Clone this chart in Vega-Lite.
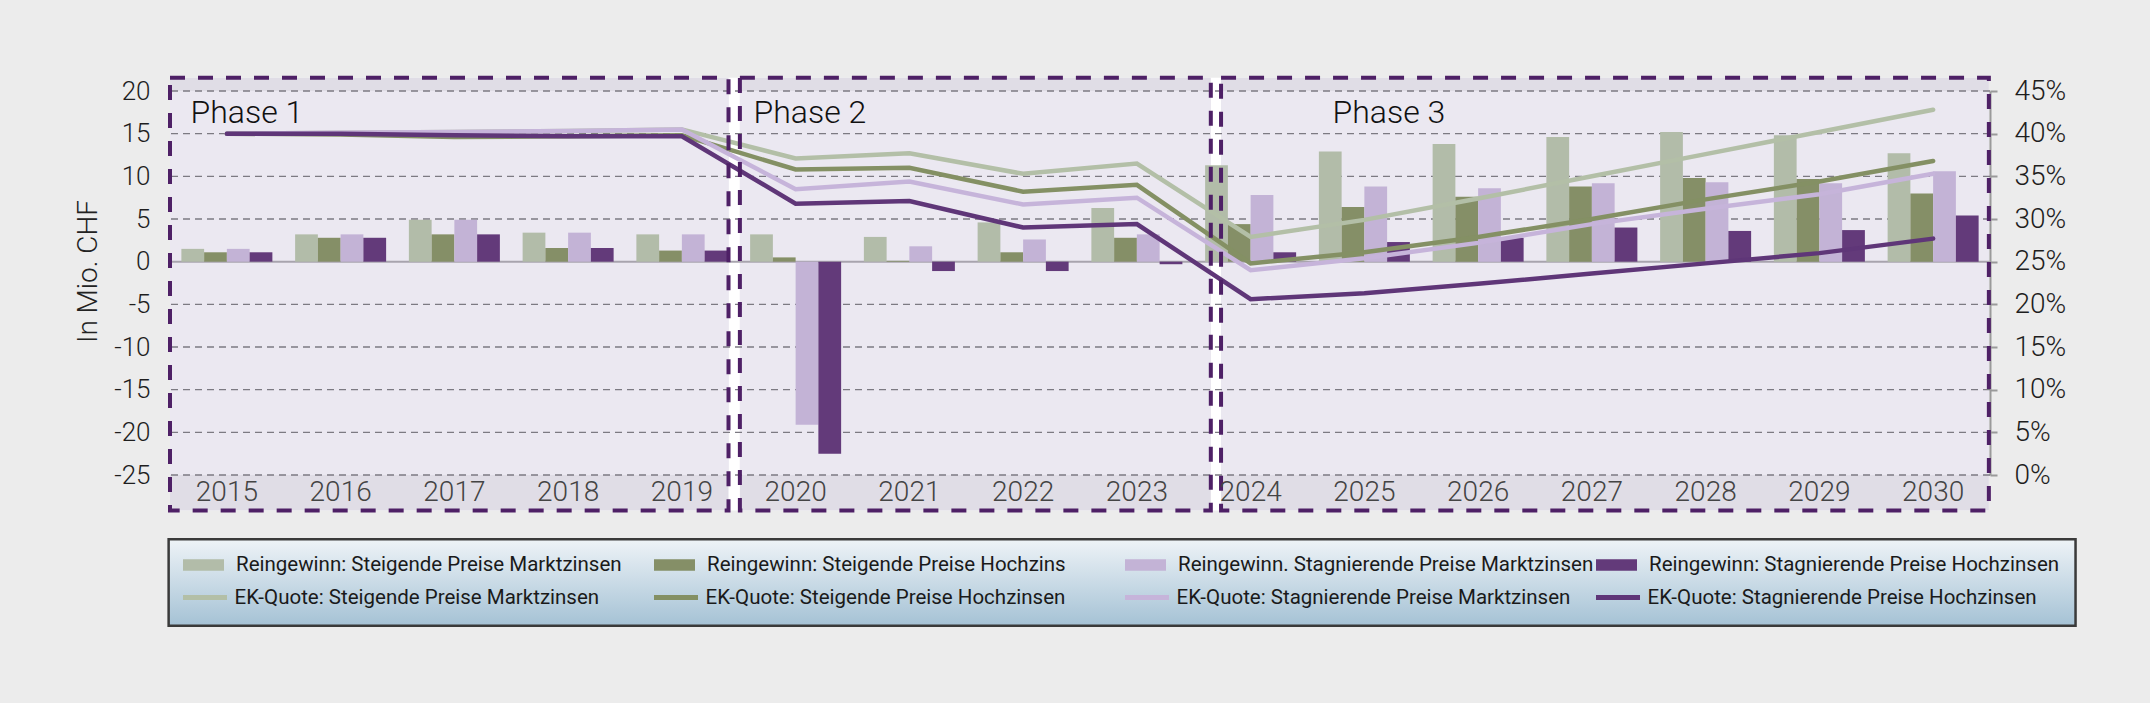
{
  "$schema": "https://vega.github.io/schema/vega-lite/v6.json",
  "width": 1820,
  "height": 384,
  "autosize": {"type": "none"},
  "padding": {"left": 170, "top": 91, "right": 160, "bottom": 228},
  "background": "#ececec",
  "config": {
    "view": {"stroke": null},
    "font": "Roboto",
    "axis": {"labelFont": "Roboto", "labelFontWeight": 300, "titleFont": "Roboto", "titleFontWeight": 300},
    "legend": {"labelFont": "Roboto", "labelFontWeight": 400}
  },
  "datasets": {
    "phases": [
      {"phase": "Phase 1", "start": 2014.5, "end": 2019.41, "labelX": 2014.68},
      {"phase": "Phase 2", "start": 2019.51, "end": 2023.65, "labelX": 2019.63},
      {"phase": "Phase 3", "start": 2023.74, "end": 2030.49, "labelX": 2024.72}
    ],
    "grid": [{"v": -25}, {"v": -20}, {"v": -15}, {"v": -10}, {"v": -5}, {"v": 5}, {"v": 10}, {"v": 15}, {"v": 20}],
    "bars": [
      {"year": 2015, "series": "Reingewinn:  Steigende Preise Marktzinsen", "value": 1.5},
      {"year": 2015, "series": "Reingewinn: Steigende Preise Hochzins", "value": 1.1},
      {"year": 2015, "series": "Reingewinn. Stagnierende Preise Marktzinsen", "value": 1.5},
      {"year": 2015, "series": "Reingewinn: Stagnierende Preise Hochzinsen", "value": 1.1},
      {"year": 2016, "series": "Reingewinn:  Steigende Preise Marktzinsen", "value": 3.2},
      {"year": 2016, "series": "Reingewinn: Steigende Preise Hochzins", "value": 2.8},
      {"year": 2016, "series": "Reingewinn. Stagnierende Preise Marktzinsen", "value": 3.2},
      {"year": 2016, "series": "Reingewinn: Stagnierende Preise Hochzinsen", "value": 2.8},
      {"year": 2017, "series": "Reingewinn:  Steigende Preise Marktzinsen", "value": 4.9},
      {"year": 2017, "series": "Reingewinn: Steigende Preise Hochzins", "value": 3.2},
      {"year": 2017, "series": "Reingewinn. Stagnierende Preise Marktzinsen", "value": 4.9},
      {"year": 2017, "series": "Reingewinn: Stagnierende Preise Hochzinsen", "value": 3.2},
      {"year": 2018, "series": "Reingewinn:  Steigende Preise Marktzinsen", "value": 3.4},
      {"year": 2018, "series": "Reingewinn: Steigende Preise Hochzins", "value": 1.6},
      {"year": 2018, "series": "Reingewinn. Stagnierende Preise Marktzinsen", "value": 3.4},
      {"year": 2018, "series": "Reingewinn: Stagnierende Preise Hochzinsen", "value": 1.6},
      {"year": 2019, "series": "Reingewinn:  Steigende Preise Marktzinsen", "value": 3.2},
      {"year": 2019, "series": "Reingewinn: Steigende Preise Hochzins", "value": 1.3},
      {"year": 2019, "series": "Reingewinn. Stagnierende Preise Marktzinsen", "value": 3.2},
      {"year": 2019, "series": "Reingewinn: Stagnierende Preise Hochzinsen", "value": 1.3},
      {"year": 2020, "series": "Reingewinn:  Steigende Preise Marktzinsen", "value": 3.2},
      {"year": 2020, "series": "Reingewinn: Steigende Preise Hochzins", "value": 0.5},
      {"year": 2020, "series": "Reingewinn. Stagnierende Preise Marktzinsen", "value": -19.1},
      {"year": 2020, "series": "Reingewinn: Stagnierende Preise Hochzinsen", "value": -22.5},
      {"year": 2021, "series": "Reingewinn:  Steigende Preise Marktzinsen", "value": 2.9},
      {"year": 2021, "series": "Reingewinn: Steigende Preise Hochzins", "value": 0.1},
      {"year": 2021, "series": "Reingewinn. Stagnierende Preise Marktzinsen", "value": 1.8},
      {"year": 2021, "series": "Reingewinn: Stagnierende Preise Hochzinsen", "value": -1.1},
      {"year": 2022, "series": "Reingewinn:  Steigende Preise Marktzinsen", "value": 4.6},
      {"year": 2022, "series": "Reingewinn: Steigende Preise Hochzins", "value": 1.1},
      {"year": 2022, "series": "Reingewinn. Stagnierende Preise Marktzinsen", "value": 2.6},
      {"year": 2022, "series": "Reingewinn: Stagnierende Preise Hochzinsen", "value": -1.1},
      {"year": 2023, "series": "Reingewinn:  Steigende Preise Marktzinsen", "value": 6.3},
      {"year": 2023, "series": "Reingewinn: Steigende Preise Hochzins", "value": 2.8},
      {"year": 2023, "series": "Reingewinn. Stagnierende Preise Marktzinsen", "value": 3.2},
      {"year": 2023, "series": "Reingewinn: Stagnierende Preise Hochzinsen", "value": -0.3},
      {"year": 2024, "series": "Reingewinn:  Steigende Preise Marktzinsen", "value": 11.3},
      {"year": 2024, "series": "Reingewinn: Steigende Preise Hochzins", "value": 4.4},
      {"year": 2024, "series": "Reingewinn. Stagnierende Preise Marktzinsen", "value": 7.8},
      {"year": 2024, "series": "Reingewinn: Stagnierende Preise Hochzinsen", "value": 1.1},
      {"year": 2025, "series": "Reingewinn:  Steigende Preise Marktzinsen", "value": 12.9},
      {"year": 2025, "series": "Reingewinn: Steigende Preise Hochzins", "value": 6.4},
      {"year": 2025, "series": "Reingewinn. Stagnierende Preise Marktzinsen", "value": 8.8},
      {"year": 2025, "series": "Reingewinn: Stagnierende Preise Hochzinsen", "value": 2.3},
      {"year": 2026, "series": "Reingewinn:  Steigende Preise Marktzinsen", "value": 13.8},
      {"year": 2026, "series": "Reingewinn: Steigende Preise Hochzins", "value": 7.6},
      {"year": 2026, "series": "Reingewinn. Stagnierende Preise Marktzinsen", "value": 8.6},
      {"year": 2026, "series": "Reingewinn: Stagnierende Preise Hochzinsen", "value": 2.8},
      {"year": 2027, "series": "Reingewinn:  Steigende Preise Marktzinsen", "value": 14.6},
      {"year": 2027, "series": "Reingewinn: Steigende Preise Hochzins", "value": 8.8},
      {"year": 2027, "series": "Reingewinn. Stagnierende Preise Marktzinsen", "value": 9.2},
      {"year": 2027, "series": "Reingewinn: Stagnierende Preise Hochzinsen", "value": 4.0},
      {"year": 2028, "series": "Reingewinn:  Steigende Preise Marktzinsen", "value": 15.2},
      {"year": 2028, "series": "Reingewinn: Steigende Preise Hochzins", "value": 9.8},
      {"year": 2028, "series": "Reingewinn. Stagnierende Preise Marktzinsen", "value": 9.3},
      {"year": 2028, "series": "Reingewinn: Stagnierende Preise Hochzinsen", "value": 3.6},
      {"year": 2029, "series": "Reingewinn:  Steigende Preise Marktzinsen", "value": 14.8},
      {"year": 2029, "series": "Reingewinn: Steigende Preise Hochzins", "value": 9.7},
      {"year": 2029, "series": "Reingewinn. Stagnierende Preise Marktzinsen", "value": 9.2},
      {"year": 2029, "series": "Reingewinn: Stagnierende Preise Hochzinsen", "value": 3.7},
      {"year": 2030, "series": "Reingewinn:  Steigende Preise Marktzinsen", "value": 12.7},
      {"year": 2030, "series": "Reingewinn: Steigende Preise Hochzins", "value": 8.0},
      {"year": 2030, "series": "Reingewinn. Stagnierende Preise Marktzinsen", "value": 10.6},
      {"year": 2030, "series": "Reingewinn: Stagnierende Preise Hochzinsen", "value": 5.4}
    ],
    "lines": [
      {"year": 2015, "series": "EK-Quote: Steigende Preise Marktzinsen", "pct": 40.0},
      {"year": 2016, "series": "EK-Quote: Steigende Preise Marktzinsen", "pct": 40.1},
      {"year": 2017, "series": "EK-Quote: Steigende Preise Marktzinsen", "pct": 40.2},
      {"year": 2018, "series": "EK-Quote: Steigende Preise Marktzinsen", "pct": 40.3},
      {"year": 2019, "series": "EK-Quote: Steigende Preise Marktzinsen", "pct": 40.5},
      {"year": 2020, "series": "EK-Quote: Steigende Preise Marktzinsen", "pct": 37.1},
      {"year": 2021, "series": "EK-Quote: Steigende Preise Marktzinsen", "pct": 37.7},
      {"year": 2022, "series": "EK-Quote: Steigende Preise Marktzinsen", "pct": 35.3},
      {"year": 2023, "series": "EK-Quote: Steigende Preise Marktzinsen", "pct": 36.5},
      {"year": 2024, "series": "EK-Quote: Steigende Preise Marktzinsen", "pct": 27.9},
      {"year": 2025, "series": "EK-Quote: Steigende Preise Marktzinsen", "pct": 29.9},
      {"year": 2026, "series": "EK-Quote: Steigende Preise Marktzinsen", "pct": 32.4},
      {"year": 2027, "series": "EK-Quote: Steigende Preise Marktzinsen", "pct": 35.0},
      {"year": 2028, "series": "EK-Quote: Steigende Preise Marktzinsen", "pct": 37.6},
      {"year": 2029, "series": "EK-Quote: Steigende Preise Marktzinsen", "pct": 40.2},
      {"year": 2030, "series": "EK-Quote: Steigende Preise Marktzinsen", "pct": 42.8},
      {"year": 2015, "series": "EK-Quote: Steigende Preise Hochzinsen", "pct": 40.0},
      {"year": 2016, "series": "EK-Quote: Steigende Preise Hochzinsen", "pct": 39.9},
      {"year": 2017, "series": "EK-Quote: Steigende Preise Hochzinsen", "pct": 39.6},
      {"year": 2018, "series": "EK-Quote: Steigende Preise Hochzinsen", "pct": 39.7},
      {"year": 2019, "series": "EK-Quote: Steigende Preise Hochzinsen", "pct": 39.8},
      {"year": 2020, "series": "EK-Quote: Steigende Preise Hochzinsen", "pct": 35.8},
      {"year": 2021, "series": "EK-Quote: Steigende Preise Hochzinsen", "pct": 36.0},
      {"year": 2022, "series": "EK-Quote: Steigende Preise Hochzinsen", "pct": 33.2},
      {"year": 2023, "series": "EK-Quote: Steigende Preise Hochzinsen", "pct": 34.0},
      {"year": 2024, "series": "EK-Quote: Steigende Preise Hochzinsen", "pct": 24.8},
      {"year": 2025, "series": "EK-Quote: Steigende Preise Hochzinsen", "pct": 26.1},
      {"year": 2026, "series": "EK-Quote: Steigende Preise Hochzinsen", "pct": 27.9},
      {"year": 2027, "series": "EK-Quote: Steigende Preise Hochzinsen", "pct": 30.0},
      {"year": 2028, "series": "EK-Quote: Steigende Preise Hochzinsen", "pct": 32.3},
      {"year": 2029, "series": "EK-Quote: Steigende Preise Hochzinsen", "pct": 34.4},
      {"year": 2030, "series": "EK-Quote: Steigende Preise Hochzinsen", "pct": 36.8},
      {"year": 2015, "series": "EK-Quote: Stagnierende Preise Marktzinsen", "pct": 40.0},
      {"year": 2016, "series": "EK-Quote: Stagnierende Preise Marktzinsen", "pct": 40.1},
      {"year": 2017, "series": "EK-Quote: Stagnierende Preise Marktzinsen", "pct": 40.2},
      {"year": 2018, "series": "EK-Quote: Stagnierende Preise Marktzinsen", "pct": 40.3},
      {"year": 2019, "series": "EK-Quote: Stagnierende Preise Marktzinsen", "pct": 40.5},
      {"year": 2020, "series": "EK-Quote: Stagnierende Preise Marktzinsen", "pct": 33.5},
      {"year": 2021, "series": "EK-Quote: Stagnierende Preise Marktzinsen", "pct": 34.4},
      {"year": 2022, "series": "EK-Quote: Stagnierende Preise Marktzinsen", "pct": 31.7},
      {"year": 2023, "series": "EK-Quote: Stagnierende Preise Marktzinsen", "pct": 32.5},
      {"year": 2024, "series": "EK-Quote: Stagnierende Preise Marktzinsen", "pct": 24.0},
      {"year": 2025, "series": "EK-Quote: Stagnierende Preise Marktzinsen", "pct": 25.4},
      {"year": 2026, "series": "EK-Quote: Stagnierende Preise Marktzinsen", "pct": 27.2},
      {"year": 2027, "series": "EK-Quote: Stagnierende Preise Marktzinsen", "pct": 29.4},
      {"year": 2028, "series": "EK-Quote: Stagnierende Preise Marktzinsen", "pct": 31.2},
      {"year": 2029, "series": "EK-Quote: Stagnierende Preise Marktzinsen", "pct": 32.9},
      {"year": 2030, "series": "EK-Quote: Stagnierende Preise Marktzinsen", "pct": 35.3},
      {"year": 2015, "series": "EK-Quote: Stagnierende Preise Hochzinsen", "pct": 40.0},
      {"year": 2016, "series": "EK-Quote: Stagnierende Preise Hochzinsen", "pct": 40.0},
      {"year": 2017, "series": "EK-Quote: Stagnierende Preise Hochzinsen", "pct": 39.8},
      {"year": 2018, "series": "EK-Quote: Stagnierende Preise Hochzinsen", "pct": 39.7},
      {"year": 2019, "series": "EK-Quote: Stagnierende Preise Hochzinsen", "pct": 39.7},
      {"year": 2020, "series": "EK-Quote: Stagnierende Preise Hochzinsen", "pct": 31.8},
      {"year": 2021, "series": "EK-Quote: Stagnierende Preise Hochzinsen", "pct": 32.1},
      {"year": 2022, "series": "EK-Quote: Stagnierende Preise Hochzinsen", "pct": 29.0},
      {"year": 2023, "series": "EK-Quote: Stagnierende Preise Hochzinsen", "pct": 29.4},
      {"year": 2024, "series": "EK-Quote: Stagnierende Preise Hochzinsen", "pct": 20.6},
      {"year": 2025, "series": "EK-Quote: Stagnierende Preise Hochzinsen", "pct": 21.3},
      {"year": 2026, "series": "EK-Quote: Stagnierende Preise Hochzinsen", "pct": 22.4},
      {"year": 2027, "series": "EK-Quote: Stagnierende Preise Hochzinsen", "pct": 23.6},
      {"year": 2028, "series": "EK-Quote: Stagnierende Preise Hochzinsen", "pct": 24.8},
      {"year": 2029, "series": "EK-Quote: Stagnierende Preise Hochzinsen", "pct": 26.0},
      {"year": 2030, "series": "EK-Quote: Stagnierende Preise Hochzinsen", "pct": 27.7}
    ]
  },
  "layer": [
    {
      "data": {"name": "phases"},
      "layer": [
        {
          "mark": {
            "type": "rect",
            "fill": {"gradient": "linear", "x1": 0, "y1": 0, "x2": 0, "y2": 1, "stops": [{"offset": 0, "color": "#eef3f7"}, {"offset": 1, "color": "#a5c2d5"}]},
            "stroke": "#3a3a3a",
            "strokeWidth": 2.5
          },
          "transform": [{"filter": "datum.phase === 'Phase 1'"}],
          "encoding": {
            "x": {"datum": 2014.488, "type": "quantitative", "scale": {"domain": [2014.5, 2030.5], "nice": false, "zero": false}, "axis": null},
            "x2": {"datum": 2031.252},
            "y": {"datum": -32.54, "type": "quantitative", "scale": {"domain": [-25, 20], "nice": false, "zero": false}, "axis": null},
            "y2": {"datum": -42.66}
          }
        },
        {
          "mark": {"type": "rect", "color": "#ffffff"},
          "transform": [{"filter": "datum.phase === 'Phase 1'"}],
          "encoding": {
            "x": {"datum": 2014.5, "type": "quantitative", "axis": null},
            "x2": {"datum": 2030.49},
            "y": {"datum": 21.55, "type": "quantitative", "axis": null},
            "y2": {"datum": -29.15}
          }
        },
        {
          "mark": {"type": "rect", "color": "#e0dde6"},
          "encoding": {
            "x": {"field": "start", "type": "quantitative", "axis": null},
            "x2": {"field": "end"},
            "y": {"datum": 21.55, "type": "quantitative", "axis": null},
            "y2": {"datum": -29.15}
          }
        },
        {
          "mark": {"type": "rect", "color": "#ebe8f1"},
          "encoding": {
            "x": {"field": "start", "type": "quantitative", "axis": null},
            "x2": {"field": "end"},
            "y": {"datum": 20, "type": "quantitative", "axis": null},
            "y2": {"datum": -25}
          }
        }
      ]
    },
    {
      "layer": [
        {
          "data": {"name": "grid"},
          "mark": {"type": "rule", "color": "#7c7a82", "strokeWidth": 1.3, "strokeDash": [7, 5]},
          "encoding": {
            "y": {"field": "v", "type": "quantitative", "scale": {"domain": [-25, 20], "nice": false, "zero": false}}
          }
        },
        {
          "data": {"values": [{"v": 0}]},
          "mark": {"type": "rule", "color": "#a8a4ae", "strokeWidth": 2},
          "encoding": {
            "y": {"field": "v", "type": "quantitative"}
          }
        },
        {
          "data": {"name": "bars"},
          "mark": {"type": "bar"},
          "encoding": {
            "x": {
              "field": "year", "type": "ordinal",
              "scale": {"type": "band", "paddingInner": 0.2, "paddingOuter": 0.1},
              "axis": {"orient": "bottom", "title": null, "labelAngle": 0, "labelFontSize": 28, "labelColor": "#444444", "ticks": false, "domain": false, "labelPadding": 3, "zindex": 1}
            },
            "xOffset": {
              "field": "series", "type": "nominal",
              "scale": {"domain": ["Reingewinn:  Steigende Preise Marktzinsen", "Reingewinn: Steigende Preise Hochzins", "Reingewinn. Stagnierende Preise Marktzinsen", "Reingewinn: Stagnierende Preise Hochzinsen"]}
            },
            "y": {
              "field": "value", "type": "quantitative",
              "scale": {"domain": [-25, 20], "nice": false, "zero": false},
              "axis": {
                "orient": "left", "values": [-25, -20, -15, -10, -5, 0, 5, 10, 15, 20],
                "labelExpr": "'' + datum.value",
                "grid": false, "domain": false, "ticks": false,
                "labelPadding": 20, "labelFontSize": 26, "labelColor": "#1e1e1e",
                "title": "In Mio. CHF", "titleFontSize": 28, "titleColor": "#222222",
                "titleX": -74, "titleY": 180, "titleBaseline": "alphabetic", "titleAngle": -90
              }
            },
            "color": {
              "field": "series", "type": "nominal",
              "scale": {
                "domain": ["Reingewinn:  Steigende Preise Marktzinsen", "Reingewinn: Steigende Preise Hochzins", "Reingewinn. Stagnierende Preise Marktzinsen", "Reingewinn: Stagnierende Preise Hochzinsen"],
                "range": ["#b2bca9", "#858f67", "#c3b3d6", "#633a7a"]
              },
              "legend": {
                "orient": "none", "legendX": 13, "legendY": 453.5,
                "direction": "horizontal", "columns": 4, "gridAlign": "all", "columnPadding": 2,
                "title": null, "padding": 0,
                "symbolType": "M-1,-0.28H1V0.28H-1Z", "symbolSize": 1681, "symbolStrokeWidth": 0,
                "labelFontSize": 20.5, "labelColor": "#1a1a1a", "labelOffset": 12, "labelLimit": 0
              }
            }
          }
        }
      ]
    },
    {
      "data": {"name": "lines"},
      "mark": {"type": "line", "strokeWidth": 4.5, "strokeCap": "round"},
      "encoding": {
        "x": {"field": "year", "type": "ordinal", "scale": {"type": "point", "padding": 0.5}, "axis": null},
        "y": {
          "field": "pct", "type": "quantitative",
          "scale": {"domain": [0, 45], "nice": false, "zero": false},
          "axis": {
            "orient": "right", "values": [0, 5, 10, 15, 20, 25, 30, 35, 40, 45],
            "labelExpr": "datum.value + '%'", "title": null, "grid": false,
            "domain": true, "domainColor": "#9a9a9a", "domainWidth": 2,
            "ticks": true, "tickSize": 7, "tickColor": "#9a9a9a", "tickWidth": 2,
            "labelPadding": 17, "labelFontSize": 28, "labelColor": "#1e1e1e"
          }
        },
        "color": {
          "field": "series", "type": "nominal",
          "scale": {
            "domain": ["EK-Quote: Steigende Preise Marktzinsen", "EK-Quote: Steigende Preise Hochzinsen", "EK-Quote: Stagnierende Preise Marktzinsen", "EK-Quote: Stagnierende Preise Hochzinsen"],
            "range": ["#b3bfa7", "#849064", "#c6b4da", "#5f3678"]
          },
          "legend": {
            "orient": "none", "legendX": 13, "legendY": 482,
            "direction": "horizontal", "columns": 4, "gridAlign": "all", "columnPadding": 15,
            "title": null, "padding": 0,
            "symbolType": "stroke", "symbolSize": 1936, "symbolStrokeWidth": 5, "symbolOffset": -2.5,
            "labelFontSize": 20.5, "labelColor": "#1a1a1a", "labelOffset": 5, "labelLimit": 0
          }
        }
      }
    },
    {
      "data": {"name": "phases"},
      "layer": [
        {
          "mark": {"type": "rect", "filled": false, "stroke": "#4e2066", "strokeWidth": 4, "strokeDash": [15, 13]},
          "encoding": {
            "x": {"field": "start", "type": "quantitative", "scale": {"domain": [2014.5, 2030.5], "nice": false, "zero": false}, "axis": null},
            "x2": {"field": "end"},
            "y": {"datum": 21.55, "type": "quantitative", "scale": {"domain": [-25, 20], "nice": false, "zero": false}, "axis": null},
            "y2": {"datum": -29.15}
          }
        },
        {
          "mark": {"type": "text", "fontSize": 32, "fontWeight": 300, "color": "#111111", "align": "left", "baseline": "alphabetic"},
          "encoding": {
            "x": {"field": "labelX", "type": "quantitative", "axis": null},
            "y": {"datum": 16.2, "type": "quantitative", "axis": null},
            "text": {"field": "phase"}
          }
        }
      ]
    }
  ],
  "resolve": {"scale": {"x": "independent", "y": "independent", "color": "independent"}}
}
